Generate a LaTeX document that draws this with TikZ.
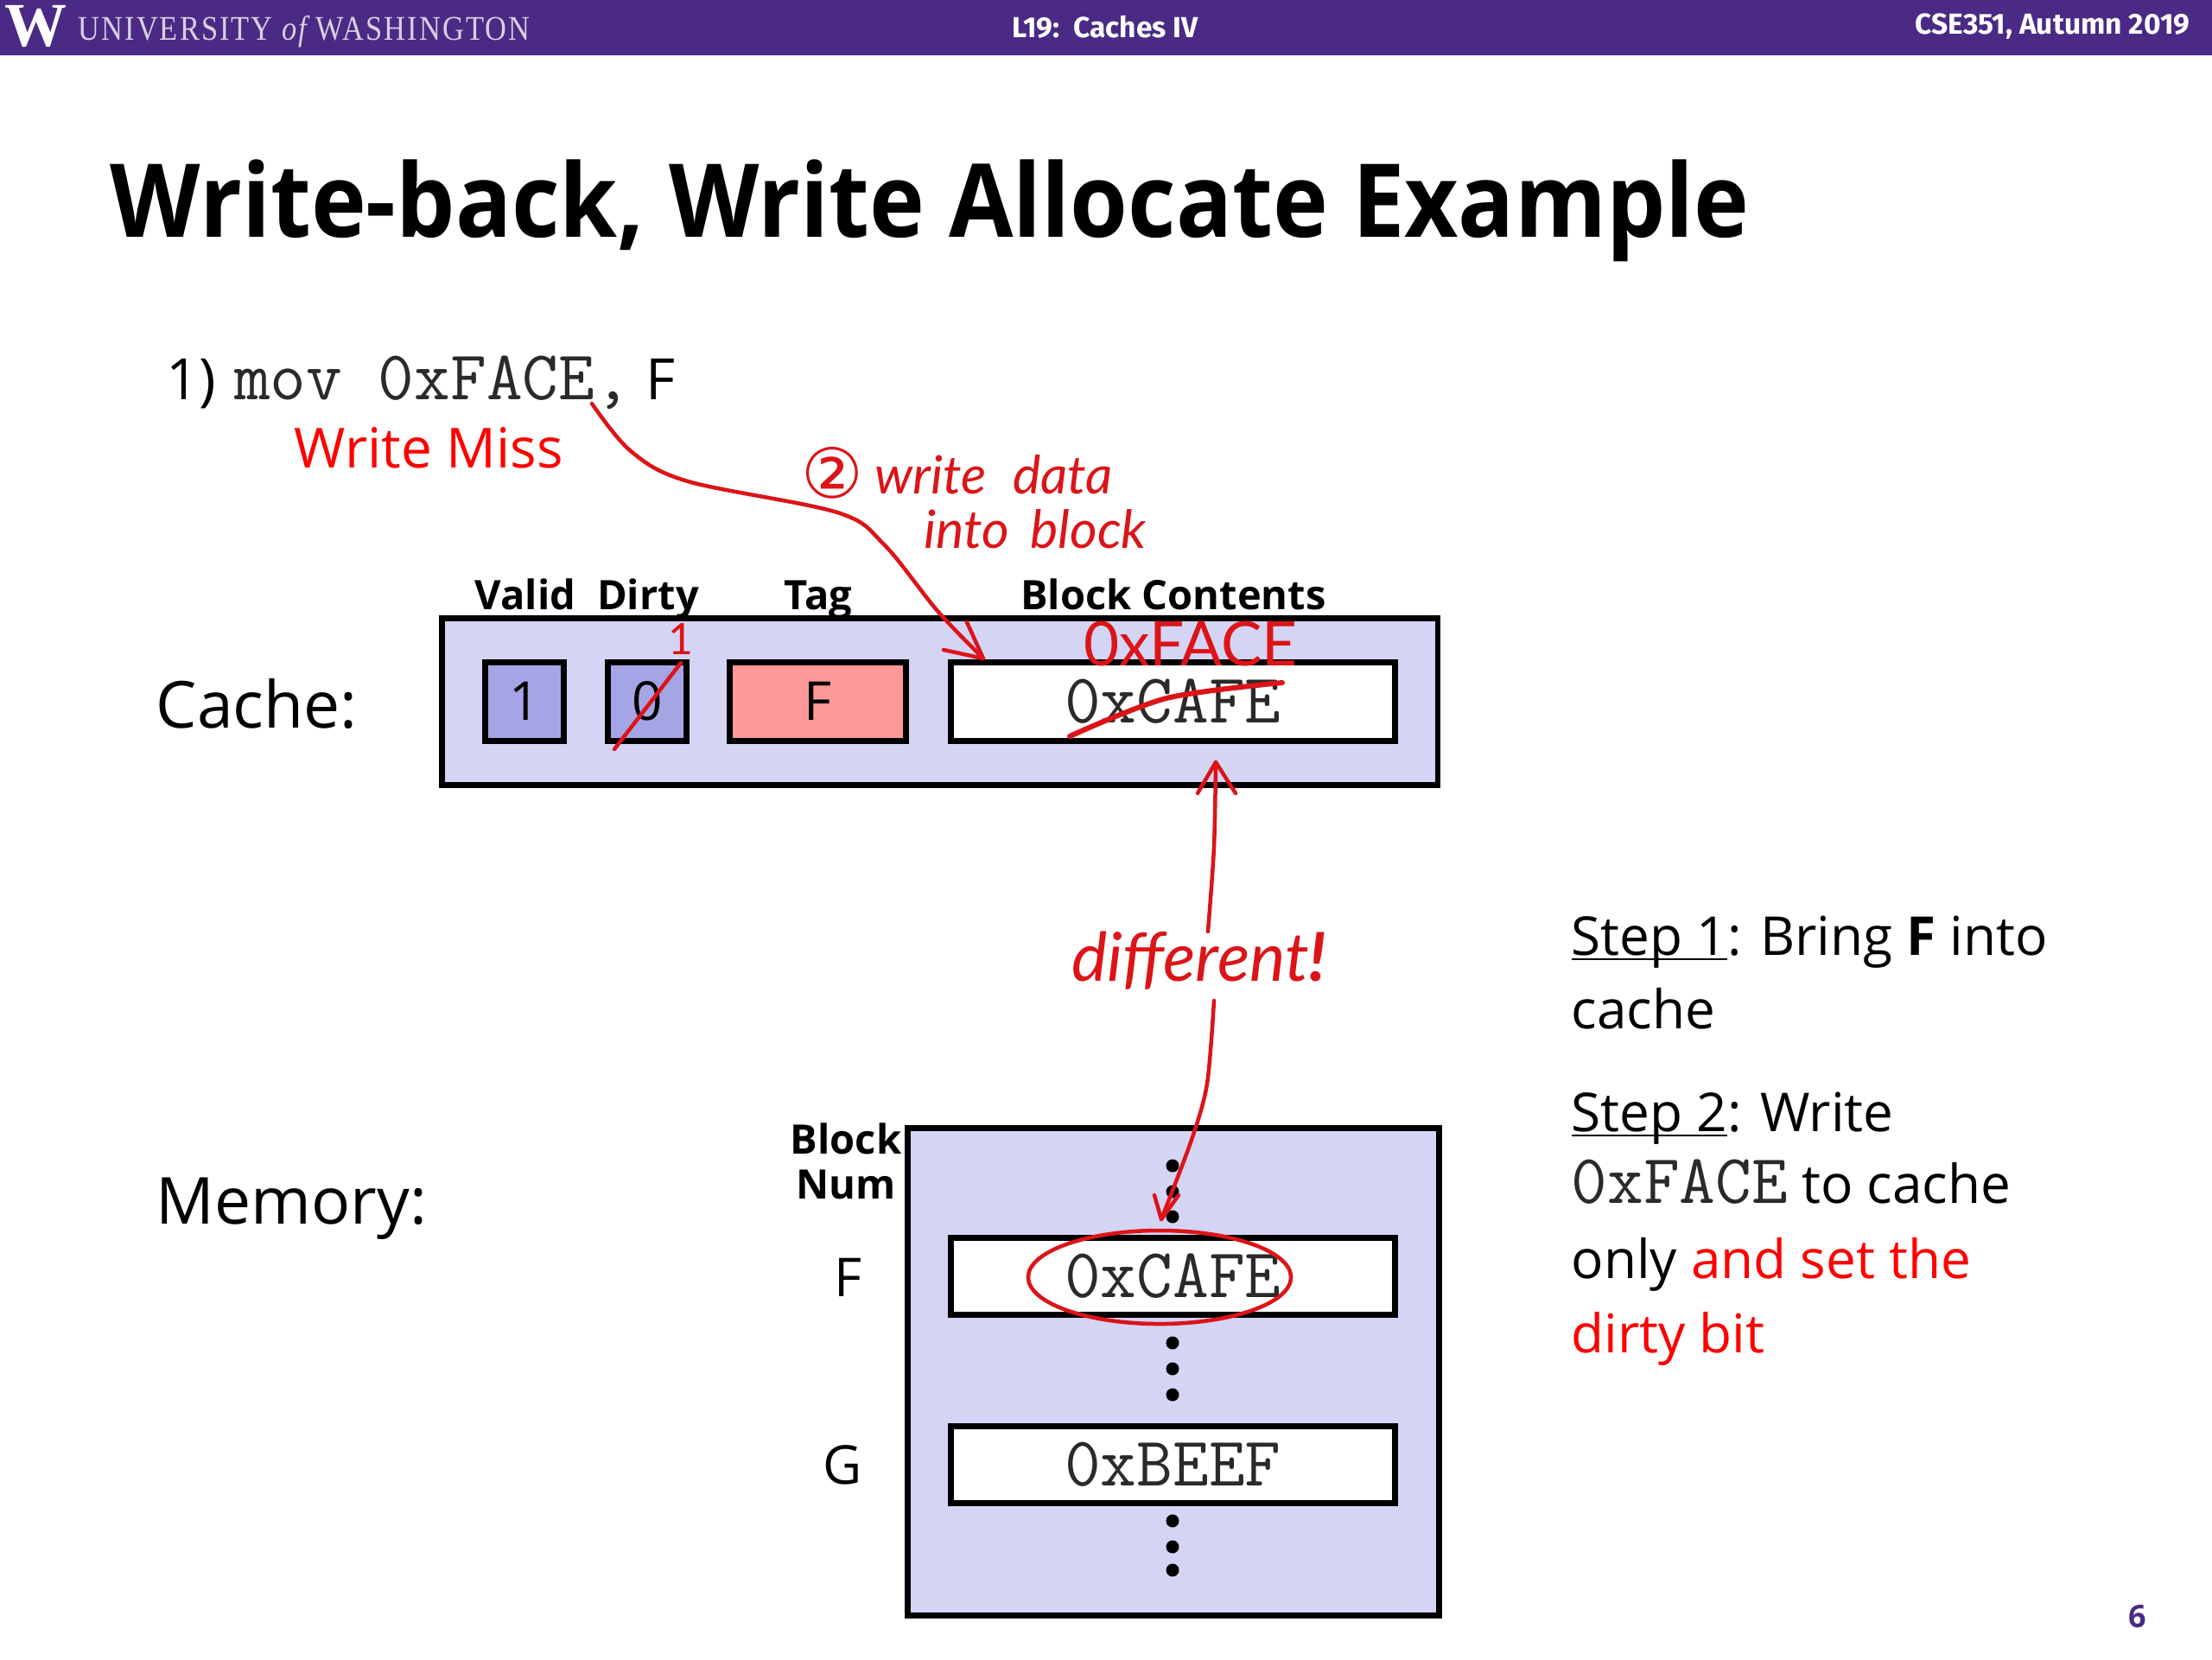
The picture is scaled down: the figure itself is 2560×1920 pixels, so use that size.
\documentclass[tikz,border=0pt]{standalone}
\usepackage{graphicx}
\usepackage{fontspec}
\usetikzlibrary{shapes.geometric}
\setmainfont{Open Sans}
\setmonofont{Latin Modern Mono}
\newfontfamily\serifhead{Liberation Serif}
\newfontfamily\headfont{Fira Sans}
\newfontfamily\handfont{Lato}
\newcommand{\pxfont}[1]{\fontsize{\dimexpr#1\dimexpr0.2845pt\relax\relax}{\dimexpr#1\dimexpr0.2845pt\relax*12/10\relax}\selectfont}
\newcommand{\monotxt}[1]{\textcolor{monogray}{\ttfamily\pxfont{81}#1}}
\newcommand{\stepul}[1]{\underline{\smash{#1}}}
\definecolor{uwpurple}{HTML}{4B2A85}
\definecolor{boxfill}{HTML}{D4D4F4}
\definecolor{bitfill}{HTML}{A5A5E6}
\definecolor{tagfill}{HTML}{FF9999}
\definecolor{ink}{HTML}{DC1418}
\definecolor{monogray}{HTML}{2A2A2A}
\tikzset{
  panel/.style={draw=black,line width=6.5*0.2845pt,fill=boxfill,inner sep=0pt,anchor=north west},
  cell/.style={draw=black,line width=6.5*0.2845pt,inner sep=0pt,anchor=north west,font=\pxfont{62}},
  dotmark/.style={circle,fill=black,inner sep=0pt,minimum size=15*0.2845pt},
  body/.style={anchor=base west,inner sep=0pt,font=\pxfont{75}},
  collabel/.style={anchor=base,inner sep=0pt,font=\bfseries\pxfont{47}},
  side/.style={anchor=center,inner sep=0pt,font=\pxfont{62}},
  stepline/.style={anchor=base west,inner sep=0pt,font=\pxfont{62}},
  hand/.style={anchor=center,inner sep=0pt,text=ink,font=\handfont\itshape\pxfont{61}},
  inkline/.style={draw=ink,line width=4.5*0.2845pt,line cap=round,line join=round},
  inkthick/.style={draw=ink,line width=6*0.2845pt,line cap=round,line join=round},
  headtext/.style={inner sep=0pt,text=white,font=\headfont\bfseries\pxfont{33.5}},
}
\begin{document}
\begin{tikzpicture}[x=0.01cm,y=-0.01cm]
\useasboundingbox (0,0) rectangle (2560,1920);
\fill[white] (0,0) rectangle (2560,1920);
\fill[uwpurple] (0,0) rectangle (2560,64);
\node[inner sep=0pt,anchor=base west,text=white,font=\serifhead\bfseries\pxfont{72}] (uww) at (5,53) {W};
\node[inner sep=0pt,anchor=base west,text=white!78!uwpurple,font=\serifhead\pxfont{40}] (uwname) at (90,46) {\scalebox{0.86}[1]{\addfontfeature{LetterSpace=6}UNIVERSITY {\itshape of} WASHINGTON}};
\node[headtext,anchor=center] (lect) at (1279,31) {L19:\ \ Caches IV};
\node[headtext,anchor=east] (course) at (2535,31) {CSE351, Autumn 2019};
\node[inner sep=0pt,anchor=base west,font=\bfseries\pxfont{118}] (title) at (127,274) {\scalebox{0.915}[1]{Write-back, Write Allocate Example}};

\node[body,font=\pxfont{66}] (instr) at (192,462) {1)\hspace{0.32em}\monotxt{mov 0xFACE,} F};
\node[body,text=red,font=\pxfont{64}] (miss) at (340,541) {Write Miss};
\node[body] (cachelbl) at (180,842) {Cache:};
\node[body] (memlbl) at (180,1416) {Memory:};

% cache
\node[panel,minimum width=1152*0.2845pt,minimum height=193*0.2845pt] (cachebox) at (508,712) {};
\node[cell,fill=bitfill,minimum width=91*0.2845pt,minimum height=91*0.2845pt] (valid) at (558,763) {1};
\node[cell,fill=bitfill,minimum width=91*0.2845pt,minimum height=91*0.2845pt] (dirty) at (700,763) {0};
\node[cell,fill=tagfill,minimum width=204*0.2845pt,minimum height=91*0.2845pt] (tag) at (841,763) {F};
\node[cell,fill=white,minimum width=514*0.2845pt,minimum height=91*0.2845pt] (blockc) at (1097,763) {\monotxt{0xCAFE}};
\node[collabel] (lvalid) at (608,705) {Valid};
\node[collabel] (ldirty) at (750,705) {Dirty};
\node[collabel] (ltag) at (947,705) {Tag};
\node[collabel] (lblock) at (1358,705) {Block Contents};

% memory
\node[panel,minimum width=615*0.2845pt,minimum height=564*0.2845pt] (membox) at (1047,1302) {};
\node[cell,fill=white,minimum width=514*0.2845pt,minimum height=89*0.2845pt] (memf) at (1097,1429) {\monotxt{0xCAFE}};
\node[cell,fill=white,minimum width=514*0.2845pt,minimum height=89*0.2845pt] (memg) at (1097,1647) {\monotxt{0xBEEF}};
\node[inner sep=0pt,align=center,font=\bfseries\pxfont{47}] (blocknum) at (979,1344) {Block\\[-0.08em]Num};
\node[side] (lf) at (981,1478) {F};
\node[side] (lg) at (975,1695) {G};
\foreach \n/\y in {a/1349,b/1379,c/1408,d/1554,e/1584,f/1614,g/1760,h/1790,i/1817}
  \node[dotmark] (dot\n) at (1357,\y) {};

% right text
\node[stepline] (s1) at (1818,1105) {\stepul{Step 1}: Bring \textbf{F} into};
\node[stepline] (s2) at (1818,1190) {cache};
\node[stepline] (s3) at (1818,1309) {\stepul{Step 2}: Write};
\node[stepline] (s4) at (1818,1392) {\monotxt{0xFACE} to cache};
\node[stepline] (s5) at (1818,1479) {only \textcolor{red}{and set the}};
\node[stepline,text=red] (s6) at (1818,1565) {dirty bit};
\node[inner sep=0pt,text=uwpurple,font=\bfseries\pxfont{36}] (pagenum) at (2474,1871) {6};

% handwritten annotations
\node[hand,font=\handfont\pxfont{71}] (hface) at (1378,745) {0xFACE};
\node[hand,font=\handfont\pxfont{50}] (hone) at (788,740) {1};
\node[inner sep=0pt,text=ink,font=\fontspec{DejaVu Sans}\pxfont{80}] (hcirc) at (963,547) {②};
\node[hand] (hwrite) at (1150,549) {write\hspace{0.5em}data};
\node[hand] (hinto) at (1198,612) {into\hspace{0.4em}block};
\node[hand,font=\handfont\itshape\pxfont{78}] (hdiff) at (1388,1112) {different\textbf{!}};

% write-data arrow
\coordinate (wa) at (685,467);
\coordinate (wb) at (730,522);
\coordinate (wc) at (796,557);
\coordinate (wd) at (969,593);
\coordinate (we) at (1023,630);
\coordinate (wf) at (1085,707);
\coordinate (wtip) at (1138,762);
\coordinate (wb1) at (1092,752);
\coordinate (wb2) at (1119,720);
\draw[inkline] plot[smooth,tension=0.55] coordinates {(wa) (wb) (wc) (wd) (we) (wf) (wtip)};
\draw[inkline] (wb1) -- (wtip) -- (wb2);

% different arrow: upper part
\coordinate (ua) at (1398,1078);
\coordinate (ub) at (1405,980);
\coordinate (utip) at (1407,882);
\coordinate (ub1) at (1386,918);
\coordinate (ub2) at (1430,918);
\draw[inkline] plot[smooth] coordinates {(ua) (ub) (utip)};
\draw[inkline] (ub1) -- (utip) -- (ub2);

% different arrow: lower part
\coordinate (la) at (1405,1158);
\coordinate (lb) at (1397,1254);
\coordinate (lc) at (1379,1319);
\coordinate (ltip) at (1344,1411);
\coordinate (lb1) at (1336,1383);
\coordinate (lb2) at (1364,1383);
\draw[inkline] plot[smooth] coordinates {(la) (lb) (lc) (ltip)};
\draw[inkline] (lb1) -- (ltip) -- (lb2);

% ring and strike-outs
\node[draw=ink,line width=4.5*0.2845pt,ellipse,inner sep=0pt,minimum width=304*0.2845pt,minimum height=108*0.2845pt] (ring) at (1342,1478) {};
\coordinate (sa) at (711,867);
\coordinate (sb) at (788,767);
\draw[inkline] (sa) -- (sb);
\coordinate (ca) at (1238,852);
\coordinate (cb) at (1350,808);
\coordinate (cc) at (1484,790);
\draw[inkthick] plot[smooth] coordinates {(ca) (cb) (cc)};
\end{tikzpicture}
\end{document}
